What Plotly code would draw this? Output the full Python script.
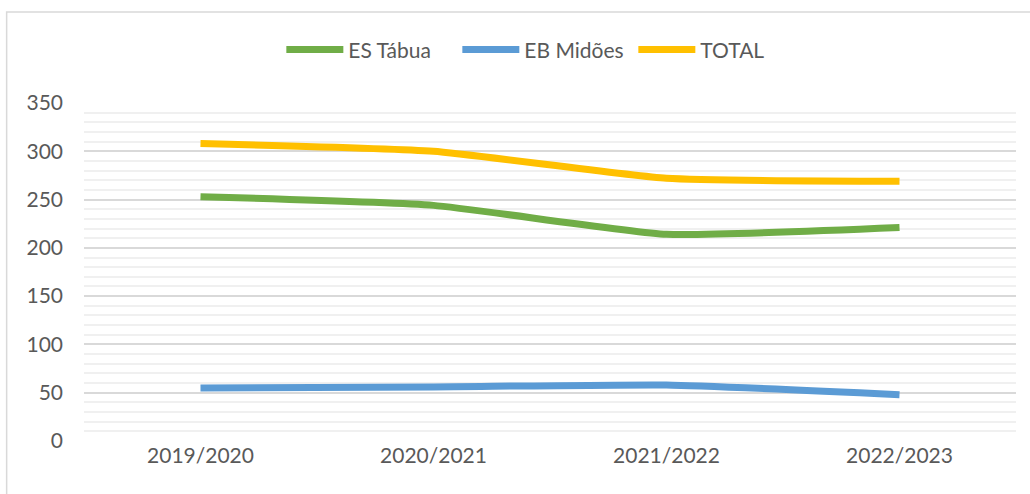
import plotly.graph_objects as go

categories = ["2019/2020", "2020/2021", "2021/2022", "2022/2023"]
es_tabua = [253, 244, 214, 221]
eb_midoes = [55, 56, 58, 48]
total = [308, 300, 272, 269]

series = [
    ("ES Tábua", es_tabua, "#70AD47"),
    ("EB Midões", eb_midoes, "#5B9BD5"),
    ("TOTAL", total, "#FFC000"),
]

fig = go.Figure()
for name, vals, color in series:
    fig.add_trace(go.Scatter(
        x=categories, y=vals, name=name, mode="lines",
        line=dict(color=color, width=7, shape="spline", smoothing=0.45),
    ))

font = dict(family="Lato, Open Sans, sans-serif", size=21, color="#595959")

fig.update_layout(
    width=1030, height=494,
    margin=dict(l=84, r=14, t=103, b=53, autoexpand=False),
    paper_bgcolor="white", plot_bgcolor="white",
    font=font,
    showlegend=True,
    legend=dict(orientation="h", x=0.495, xref="paper", xanchor="center",
                y=1.157, yref="paper", yanchor="middle",
                font=font, itemwidth=57, traceorder="normal",
                entrywidth=104, entrywidthmode="pixels"),
    xaxis=dict(range=[-0.5, 3.5], showgrid=False, zeroline=False, showline=False,
               ticks="", tickfont=font, automargin=False),
    yaxis=dict(range=[0, 350], dtick=50, showgrid=True, gridcolor="#D9D9D9", gridwidth=1.5,
               zeroline=False, showline=False, ticks="", tickfont=font, automargin=False,
               ticklabelstandoff=20,
               minor=dict(dtick=10, showgrid=True, gridcolor="#F0F0F0", gridwidth=1.5)),
)

# outer chart border (partially cropped in original)
fig.add_shape(type="rect", xref="paper", yref="paper",
              x0=-0.083, x1=1.2, y0=-0.5, y1=1.269,
              line=dict(color="#D9D9D9", width=1.5), layer="below")

fig.write_html("out.html", config={"displayModeBar": False},
               post_script="document.body.style.margin='0px';")
